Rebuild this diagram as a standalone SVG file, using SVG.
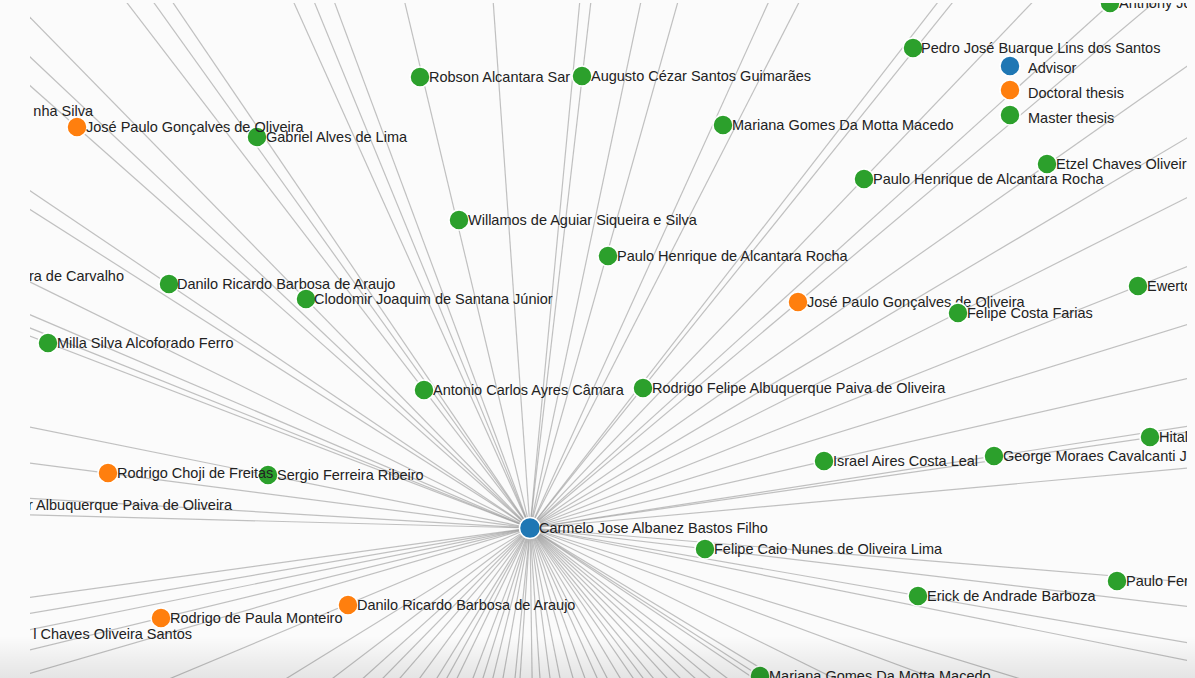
<svg xmlns="http://www.w3.org/2000/svg" width="1195" height="678" viewBox="0 0 1195 678">
<style>
.links line{stroke:#999;stroke-opacity:0.6;stroke-width:1.2}
.node circle,.legend circle{stroke:#fff;stroke-width:1.5}
text{font-family:"Liberation Sans",Arial,Helvetica,sans-serif;font-size:14.5px;fill:#222}
.adv{fill:#1f77b4}.doc{fill:#ff7f0e}.mas{fill:#2ca02c}
</style>
<defs>
<clipPath id="view"><rect x="30" y="3" width="1157" height="675"/></clipPath>
<linearGradient id="fade" x1="0" y1="0" x2="0" y2="1">
<stop offset="0" stop-color="#000" stop-opacity="0"/>
<stop offset="1" stop-color="#000" stop-opacity="0.09"/>
</linearGradient>
</defs>
<rect width="1195" height="678" fill="#fbfbfb"/>
<g clip-path="url(#view)">
<g id="connectors" class="links" transform="translate(530,528)">
<line x2="1400" transform="rotate(-178.5)"/>
<line x2="1400" transform="rotate(-176.6)"/>
<line x2="1400" transform="rotate(-172.6)"/>
<line x2="1400" transform="rotate(-168.6)"/>
<line x2="1400" transform="rotate(-159)"/>
<line x2="1400" transform="rotate(-158.2)"/>
<line x2="1400" transform="rotate(-156.9)"/>
<line x2="1400" transform="rotate(-153.8)"/>
<line x2="1400" transform="rotate(-147.5)"/>
<line x2="1400" transform="rotate(-146)"/>
<line x2="1400" transform="rotate(-138.5)"/>
<line x2="1400" transform="rotate(-136.7)"/>
<line x2="1400" transform="rotate(-134.4)"/>
<line x2="1400" transform="rotate(-127.5)"/>
<line x2="1400" transform="rotate(-125.6)"/>
<line x2="1400" transform="rotate(-124.2)"/>
<line x2="1400" transform="rotate(-114.2)"/>
<line x2="1400" transform="rotate(-112.3)"/>
<line x2="1400" transform="rotate(-110.4)"/>
<line x2="1400" transform="rotate(-103.4)"/>
<line x2="1400" transform="rotate(-94)"/>
<line x2="1400" transform="rotate(-84.6)"/>
<line x2="1400" transform="rotate(-83.4)"/>
<line x2="1400" transform="rotate(-78.1)"/>
<line x2="1400" transform="rotate(-74.3)"/>
<line x2="1400" transform="rotate(-65.6)"/>
<line x2="1400" transform="rotate(-62.9)"/>
<line x2="1400" transform="rotate(-52.2)"/>
<line x2="1400" transform="rotate(-51.2)"/>
<line x2="1400" transform="rotate(-46.3)"/>
<line x2="1400" transform="rotate(-42.1)"/>
<line x2="1400" transform="rotate(-40.1)"/>
<line x2="1400" transform="rotate(-35.1)"/>
<line x2="1400" transform="rotate(-30.7)"/>
<line x2="1400" transform="rotate(-26.7)"/>
<line x2="1400" transform="rotate(-21.7)"/>
<line x2="1400" transform="rotate(-17.2)"/>
<line x2="1400" transform="rotate(-12.8)"/>
<line x2="1400" transform="rotate(-8.8)"/>
<line x2="1400" transform="rotate(-8.3)"/>
<line x2="1400" transform="rotate(-5.2)"/>
<line x2="1400" transform="rotate(4.7)"/>
<line x2="1400" transform="rotate(6.8)"/>
<line x2="1400" transform="rotate(9.9)"/>
<line x2="1400" transform="rotate(11.4)"/>
<line x2="1400" transform="rotate(17.1)"/>
<line x2="1400" transform="rotate(20.4)"/>
<line x2="1400" transform="rotate(26.3)"/>
<line x2="1400" transform="rotate(31.3)"/>
<line x2="1400" transform="rotate(32.8)"/>
<line x2="1400" transform="rotate(33.9)"/>
<line x2="1400" transform="rotate(37.3)"/>
<line x2="1400" transform="rotate(39.8)"/>
<line x2="1400" transform="rotate(42.3)"/>
<line x2="1400" transform="rotate(45)"/>
<line x2="1400" transform="rotate(47.6)"/>
<line x2="1400" transform="rotate(50.6)"/>
<line x2="1400" transform="rotate(53)"/>
<line x2="1400" transform="rotate(55.5)"/>
<line x2="1400" transform="rotate(59)"/>
<line x2="1400" transform="rotate(62.8)"/>
<line x2="1400" transform="rotate(65.9)"/>
<line x2="1400" transform="rotate(69.9)"/>
<line x2="1400" transform="rotate(74)"/>
<line x2="1400" transform="rotate(78.7)"/>
<line x2="1400" transform="rotate(82.4)"/>
<line x2="1400" transform="rotate(86.2)"/>
<line x2="1400" transform="rotate(89.2)"/>
<line x2="1400" transform="rotate(93.8)"/>
<line x2="1400" transform="rotate(95.7)"/>
<line x2="1400" transform="rotate(100.2)"/>
<line x2="1400" transform="rotate(103.9)"/>
<line x2="1400" transform="rotate(107.4)"/>
<line x2="1400" transform="rotate(110.8)"/>
<line x2="1400" transform="rotate(115.9)"/>
<line x2="1400" transform="rotate(119)"/>
<line x2="1400" transform="rotate(121.8)"/>
<line x2="1400" transform="rotate(126.3)"/>
<line x2="1400" transform="rotate(130.9)"/>
<line x2="1400" transform="rotate(134.4)"/>
<line x2="1400" transform="rotate(138)"/>
<line x2="1400" transform="rotate(142.7)"/>
<line x2="1400" transform="rotate(148.3)"/>
<line x2="1400" transform="rotate(157.3)"/>
<line x2="1400" transform="rotate(163.8)"/>
<line x2="1400" transform="rotate(166.3)"/>
<line x2="1400" transform="rotate(168.5)"/>
<line x2="1400" transform="rotate(170.3)"/>
<line x2="1400" transform="rotate(172.1)"/>
</g>
<g id="n-anthony" class="node"><circle class="mas" cx="1110" cy="3" r="10"/><text x="1119" y="8">Anthony Jo</text></g>
<g id="n-pedro" class="node"><circle class="mas" cx="913" cy="48" r="10"/><text x="921" y="53">Pedro José Buarque Lins dos Santos</text></g>
<g id="n-robson" class="node"><circle class="mas" cx="420" cy="77" r="10"/><text x="429" y="82">Robson Alcantara Sar</text></g>
<g id="n-augusto" class="node"><circle class="mas" cx="582" cy="76" r="10"/><text x="591" y="81">Augusto Cézar Santos Guimarães</text></g>
<g id="n-mariana1" class="node"><circle class="mas" cx="723" cy="125" r="10"/><text x="732" y="130">Mariana Gomes Da Motta Macedo</text></g>
<g id="n-cunha" class="node"><text x="93" y="116" text-anchor="end">nha Silva</text></g>
<g id="n-gabriel" class="node"><circle class="mas" cx="257" cy="137" r="10"/><text x="266" y="142">Gabriel Alves de Lima</text></g>
<g id="n-josepaulo1" class="node"><circle class="doc" cx="77" cy="127" r="10"/><text x="86" y="132">José Paulo Gonçalves de Oliveira</text></g>
<g id="n-etzel" class="node"><circle class="mas" cx="1047" cy="164" r="10"/><text x="1056" y="169">Etzel Chaves Oliveir</text></g>
<g id="n-paulohr1" class="node"><circle class="mas" cx="864" cy="179" r="10"/><text x="873" y="184">Paulo Henrique de Alcantara Rocha</text></g>
<g id="n-willamos" class="node"><circle class="mas" cx="459" cy="220" r="10"/><text x="468" y="225">Willamos de Aguiar Siqueira e Silva</text></g>
<g id="n-paulohr2" class="node"><circle class="mas" cx="608" cy="256" r="10"/><text x="617" y="261">Paulo Henrique de Alcantara Rocha</text></g>
<g id="n-carvalho" class="node"><text x="124" y="281" text-anchor="end">ra de Carvalho</text></g>
<g id="n-danilo1" class="node"><circle class="mas" cx="169" cy="284" r="10"/><text x="177" y="289">Danilo Ricardo Barbosa de Araujo</text></g>
<g id="n-clodomir" class="node"><circle class="mas" cx="306" cy="299" r="10"/><text x="314" y="304">Clodomir Joaquim de Santana Júnior</text></g>
<g id="n-ewerton" class="node"><circle class="mas" cx="1138" cy="286" r="10"/><text x="1147" y="291">Ewerto</text></g>
<g id="n-josepaulo2" class="node"><circle class="doc" cx="798" cy="302" r="10"/><text x="807" y="307">José Paulo Gonçalves de Oliveira</text></g>
<g id="n-felipecf" class="node"><circle class="mas" cx="958" cy="313" r="10"/><text x="967" y="318">Felipe Costa Farias</text></g>
<g id="n-milla" class="node"><circle class="mas" cx="48" cy="343" r="10"/><text x="57" y="348">Milla Silva Alcoforado Ferro</text></g>
<g id="n-antonio" class="node"><circle class="mas" cx="424" cy="390" r="10"/><text x="433" y="395">Antonio Carlos Ayres Câmara</text></g>
<g id="n-rodrigofa" class="node"><circle class="mas" cx="643" cy="388" r="10"/><text x="652" y="393">Rodrigo Felipe Albuquerque Paiva de Oliveira</text></g>
<g id="n-hital" class="node"><circle class="mas" cx="1150" cy="437" r="10"/><text x="1159" y="442">Hital</text></g>
<g id="n-israel" class="node"><circle class="mas" cx="824" cy="461" r="10"/><text x="833" y="466">Israel Aires Costa Leal</text></g>
<g id="n-george" class="node"><circle class="mas" cx="994" cy="456" r="10"/><text x="1003" y="461">George Moraes Cavalcanti J</text></g>
<g id="n-sergio" class="node"><circle class="mas" cx="268" cy="475" r="10"/><text x="277" y="480">Sergio Ferreira Ribeiro</text></g>
<g id="n-choji" class="node"><circle class="doc" cx="108" cy="473" r="10"/><text x="117" y="478">Rodrigo Choji de Freitas</text></g>
<g id="n-albuquerque" class="node"><text x="232" y="510" text-anchor="end">r Albuquerque Paiva de Oliveira</text></g>
<g id="n-felipecaio" class="node"><circle class="mas" cx="705" cy="549" r="10"/><text x="714" y="554">Felipe Caio Nunes de Oliveira Lima</text></g>
<g id="n-paulofer" class="node"><circle class="mas" cx="1117" cy="581" r="10"/><text x="1126" y="586">Paulo Fer</text></g>
<g id="n-erick" class="node"><circle class="mas" cx="918" cy="596" r="10"/><text x="927" y="601">Erick de Andrade Barboza</text></g>
<g id="n-danilo2" class="node"><circle class="doc" cx="348" cy="605" r="10"/><text x="357" y="610">Danilo Ricardo Barbosa de Araujo</text></g>
<g id="n-rodrigopm" class="node"><circle class="doc" cx="161" cy="618" r="10"/><text x="170" y="623">Rodrigo de Paula Monteiro</text></g>
<g id="n-chaves" class="node"><text x="192" y="639" text-anchor="end">l Chaves Oliveira Santos</text></g>
<g id="n-mariana2" class="node"><circle class="mas" cx="760" cy="676" r="10"/><text x="769" y="681">Mariana Gomes Da Motta Macedo</text></g>
<g id="n-hub" class="node"><circle class="adv" cx="530" cy="528" r="10.5"/><text x="539" y="533">Carmelo Jose Albanez Bastos Filho</text></g>
</g>
<g id="legend" class="legend">
<circle class="adv" cx="1010" cy="66" r="10"/><text x="1028" y="73">Advisor</text>
<circle class="doc" cx="1010" cy="90" r="10"/><text x="1028" y="98">Doctoral thesis</text>
<circle class="mas" cx="1010" cy="115" r="10"/><text x="1028" y="123">Master thesis</text>
</g>
<rect x="0" y="636" width="1195" height="42" fill="url(#fade)"/>
</svg>
